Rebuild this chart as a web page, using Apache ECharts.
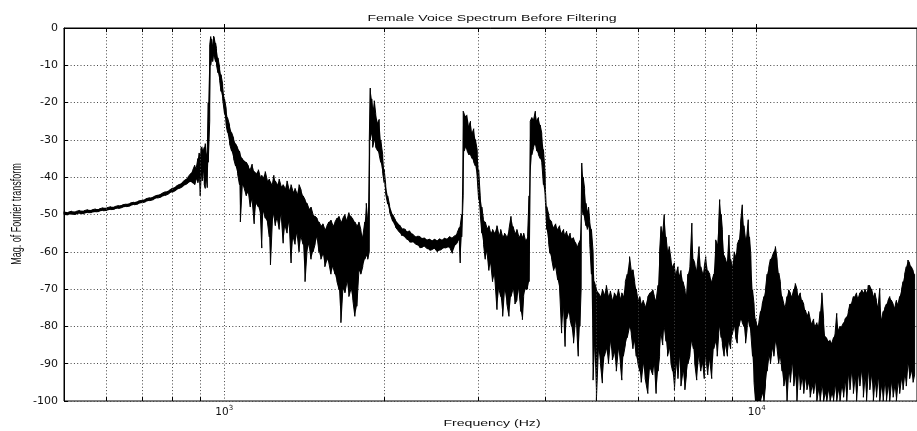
<!DOCTYPE html>
<html>
<head>
<meta charset="utf-8">
<title>Female Voice Spectrum Before Filtering</title>
<script src="https://cdn.jsdelivr.net/npm/echarts@6/dist/echarts.min.js"></script>
<style>
  html, body { margin: 0; padding: 0; background: #fff; }
  #chart { width: 917px; height: 431px; }
</style>
</head>
<body>
<div id="chart"></div>
<script>
// Spectrum rows: [frequency in Hz, upper envelope dB, lower envelope dB]
const risingSlope = [
  [500,-49.2,-50.0],[509,-49.4,-50.1],[517,-49.1,-49.9],[526,-49.2,-50.0],[535,-48.9,-49.7],
  [545,-49.0,-49.8],[554,-48.7,-49.5],[563,-48.8,-49.5],[573,-48.5,-49.3],[582,-48.5,-49.2],
  [592,-48.2,-49.0],[602,-48.2,-48.9],[612,-47.9,-48.7],[622,-47.9,-48.6],[633,-47.6,-48.4],
  [644,-47.4,-48.1],[655,-47.2,-47.9],[666,-46.9,-47.7],[677,-46.7,-47.4],[689,-46.4,-47.2],
  [700,-46.2,-46.9],[712,-45.8,-46.6],[724,-45.5,-46.3],[737,-45.2,-46.0],[749,-44.8,-45.6],
  [762,-44.4,-45.3],[775,-43.9,-44.9],[788,-43.5,-44.4],[800,-42.9,-44.0],[812,-42.4,-43.5],
  [824,-41.9,-43.0],[836,-41.2,-42.5],[846,-40.6,-42.0],[856,-39.8,-41.5],[865,-39.0,-41.2],
  [872,-38.2,-41.6],[880,-36.8,-42.0],[886,-37.5,-40.5],[892,-35.0,-41.5],[897,-33.5,-40.0],
  [901,-34.0,-45.0],[905,-32.0,-39.5],[909,-31.7,-41.0],[913,-33.0,-38.5],[917,-32.0,-42.0],
  [921,-31.0,-43.0],[925,-34.0,-40.0],[929,-33.0,-42.8]
];
const firstPeak = [
  [933,-20,-36],[939,-4.5,-25],[943,-2.3,-10],[947,-3.0,-8],[951,-5.0,-9],[955,-2.2,-7],
  [959,-2.5,-8],[963,-4.0,-9],[967,-5.5,-10],[973,-8.0,-12],[980,-10.5,-14],[986,-12.5,-17],
  [993,-15,-19],[1001,-19,-23],[1008,-21.5,-26],[1014,-24,-28],[1023,-26,-31],[1032,-28,-33],
  [1041,-29.5,-35],[1050,-31,-37],[1059,-32,-39],[1068,-33,-42],[1072,-34,-52],[1081,-35,-42],
  [1090,-35.5,-43],[1100,-36,-45],[1110,-37,-44],[1119,-38,-48],[1128,-36.5,-46],[1138,-38.5,-52.5],
  [1148,-39,-47],[1159,-38,-48],[1169,-40,-50],[1176,-39.5,-59],[1184,-40,-49],[1194,-38.5,-51],
  [1205,-41,-52],[1215,-40.5,-56],[1221,-41,-63.5],[1231,-42,-52],[1239,-39.5,-50],[1247,-41,-53],
  [1258,-42,-51],[1268,-40.5,-54],[1279,-42.5,-50],[1290,-42,-57.7],[1301,-43,-53],[1312,-41,-55],
  [1324,-43.5,-52],[1335,-42,-63],[1347,-44,-56],[1358,-43,-58],[1370,-44.5,-55],[1382,-42,-60],
  [1394,-43.4,-56],[1406,-45,-58],[1418,-46,-68],[1430,-47,-60],[1443,-48.5,-58],[1455,-48,-62],
  [1468,-50,-60],[1481,-50.5,-58],[1494,-51,-56],[1506,-52,-60],[1519,-53,-62],[1532,-52.5,-60.5],
  [1545,-54,-64],[1559,-53,-62],[1572,-52,-63],[1586,-51.5,-66],[1600,-53,-64],[1614,-52,-66],
  [1628,-51,-68],[1642,-50.5,-70],[1656,-52,-79],[1670,-51,-70],[1685,-50,-71],[1700,-51.5,-68],
  [1714,-49.5,-72],[1729,-50.5,-70],[1744,-51,-73],[1759,-52,-77.3],[1774,-53,-74.6],[1790,-52,-65],
  [1805,-54,-66],[1820,-56,-64],[1836,-52,-62],[1848,-47,-61],[1860,-52,-62]
];
const secondPeak = [
  [1872,-30,-60],[1880,-16.1,-30],[1892,-19,-28],[1900,-22,-32],[1913,-19.5,-30],[1925,-23,-32],
  [1942,-25.4,-33],[1954,-24.5,-34],[1967,-30,-36],[1984,-34,-39],[1997,-38,-41.5],[2010,-42,-44.5],
  [2027,-45,-47.2],[2044,-47.5,-49.4],[2071,-50,-51.8],[2097,-51.5,-53.4],[2134,-52.8,-54.8],
  [2152,-53.6,-55.6],[2170,-53.8,-55.8],[2189,-54.0,-56.2],[2208,-54.6,-56.8],[2230,-54.4,-57.4],
  [2256,-55.2,-57.4],[2280,-55.8,-57.8],[2306,-55.8,-58.2],[2330,-55.9,-58.9],[2356,-56.4,-58.8],
  [2380,-56.3,-58.6],[2407,-56.8,-59.2],[2433,-56.6,-59.6],[2460,-57,-59.4],[2486,-56.6,-59.2],
  [2513,-57,-60],[2540,-56.5,-59.6],[2568,-56.8,-59.2],[2596,-56.3,-59.0],[2624,-56.5,-58.8],
  [2652,-55.9,-58.9],[2681,-56.2,-60.4],[2716,-55.6,-58.2],[2739,-54.8,-57.6],[2763,-53.5,-56.8],
  [2774,-53,-63],[2792,-50,-56]
];
const thirdPeak = [
  [2810,-22.3,-45],[2822,-23,-33],[2837,-23.6,-32],[2859,-23.2,-33],[2880,-26.3,-34],[2900,-25,-34],
  [2921,-28.2,-35],[2941,-27,-36],[2962,-29.9,-37],[2985,-32.6,-40],[3004,-38,-46],[3025,-45,-50],
  [3046,-48,-55],[3068,-51.4,-58],[3091,-52,-62],[3115,-53.7,-60],[3140,-53,-65],[3165,-55,-63],
  [3191,-54,-68],[3218,-55,-66],[3252,-53,-75.5],[3280,-55.5,-70],[3305,-54,-72],[3333,-56,-77.3],
  [3360,-55,-70],[3395,-56,-74],[3425,-54,-77.3],[3455,-50.5,-72],[3485,-53.2,-70],[3515,-55,-74],
  [3545,-54,-73],[3575,-56,-70],[3606,-55,-76],[3630,-56,-78.2],[3650,-55,-72],[3680,-57,-70],
  [3712,-56,-70],[3736,-45,-68]
];
const fourthPeak = [
  [3755,-25,-40],[3781,-24,-34],[3811,-24.5,-32],[3839,-22.3,-31],[3864,-24.8,-33],[3891,-24,-34],
  [3920,-26,-35],[3947,-28.2,-36],[3976,-32.6,-42],[4005,-39,-45],[4033,-47.9,-54],[4068,-50,-58],
  [4090,-51.4,-60.4],[4120,-52,-62],[4156,-53.5,-65],[4192,-52.5,-64],[4228,-54,-67.5],[4264,-53,-70],
  [4301,-55,-81.8],[4338,-54,-75],[4366,-55.5,-85.4],[4395,-54.5,-78],[4433,-56,-76],[4462,-55,-78.2],
  [4490,-56.5,-80],[4529,-56,-84.5],[4568,-57.5,-78],[4597,-58.6,-82],[4622,-58,-88],[4654,-57,-80],
  [4680,-50,-70]
];
const fifthPeak = [
  [4693,-36.2,-48],[4721,-40,-50],[4750,-43,-51],[4778,-47,-53],[4806,-49.2,-54],[4832,-48,-53],
  [4858,-51.9,-58],[4893,-54,-66],[4928,-60,-94.4],[4955,-68,-85]
];
const upperBand = [
  [4999,-70,-99.7],[5043,-71,-86],[5087,-72,-90],[5130,-70,-95.2],[5175,-71.5,-88],[5219,-69,-86],
  [5265,-72,-90],[5310,-70.5,-84],[5356,-73,-89],[5402,-71,-87],[5449,-72,-92],[5496,-70,-86],
  [5544,-72.5,-90],[5580,-71,-94.4],[5617,-72,-88],[5665,-68,-85],[5713,-66,-83],[5770,-61.3,-80],
  [5812,-65,-82],[5855,-64.8,-86],[5900,-68,-84],[5939,-70,-88],[5983,-73,-90],[6030,-72,-92],
  [6068,-74,-95],[6120,-73,-90],[6173,-74.7,-94],[6245,-72,-98],[6305,-71,-91],[6378,-70.2,-93],
  [6426,-72,-90],[6472,-73,-98],[6527,-69,-92],[6570,-60,-88],[6613,-53.2,-82],[6660,-55,-85],
  [6704,-50,-80],[6756,-56,-84],[6800,-60,-88],[6850,-58.6,-86],[6902,-62,-90],[6950,-64,-92],
  [7005,-63,-97],[7053,-66,-90],[7113,-64,-94],[7155,-66.6,-88],[7206,-65,-96],[7270,-68,-92],
  [7330,-70,-97],[7380,-72,-93],[7426,-66,-90],[7490,-64,-88],[7555,-52.3,-84],[7605,-62,-86],
  [7650,-63,-90],[7715,-65,-94.4],[7793,-58.6,-88],[7852,-64,-92],[7920,-66,-90],[7970,-64,-94],
  [8022,-61.3,-88],[8092,-65,-93],[8162,-66,-89],[8232,-68,-94],[8304,-66,-86],[8375,-56.8,-84],
  [8430,-58,-88],[8485,-52,-82],[8520,-46,-80],[8575,-50,-83],[8620,-54.1,-85],[8686,-61,-88],
  [8743,-62,-85],[8810,-63,-88],[8870,-55.5,-84],[8933,-62,-86],[8998,-64,-82],[9070,-60,-80],
  [9127,-61.3,-83],[9193,-58,-84.5],[9260,-56.8,-80],[9326,-52,-78],[9395,-47.4,-79],[9460,-53,-80],
  [9530,-56.8,-84.5],[9590,-55,-81],[9640,-51.4,-78],[9693,-56,-80],[9750,-61,-82],[9820,-70.2,-88],
  [9885,-74,-95],[9948,-78,-100],[10012,-80,-100],[10090,-79,-100],[10164,-76,-100],[10240,-74,-98],
  [10318,-72,-100],[10385,-70.2,-96],[10460,-66,-92],[10540,-64,-88],[10610,-62,-90],[10690,-61.3,-86],
  [10770,-60,-88],[10841,-58.6,-84],[10920,-62,-86],[11000,-65.7,-90],[11077,-68,-88],[11160,-72,-92],
  [11245,-74,-96],[11318,-74.7,-94],[11400,-72,-100],[11480,-70.2,-92],[11564,-71,-95],[11650,-72,-90],
  [11740,-70,-96],[11815,-68.5,-93],[11900,-70,-100],[11985,-72,-92],[12072,-71,-97],[12160,-72.9,-94],
  [12255,-74,-98],[12334,-75.6,-94],[12425,-77,-97],[12515,-76,-95],[12602,-78,-99],[12695,-79.2,-96],
  [12790,-78,-98],[12876,-80,-95],[12970,-79,-100],[13065,-80,-97],[13156,-76,-100],[13255,-71,-96],
  [13355,-78,-100],[13442,-82.7,-98],[13540,-83,-100],[13640,-84,-97],[13734,-83.5,-100],[13835,-84.5,-98],
  [13940,-83,-100],[14032,-82,-96],[14135,-76.5,-100],[14240,-81,-97],[14337,-80,-100],[14440,-80,-96],
  [14560,-79,-99],[14649,-78,-95],[14760,-77.4,-100],[14860,-76,-93],[14967,-74,-97],[15075,-73.8,-92],
  [15190,-72,-98],[15292,-72,-94],[15400,-71,-100],[15510,-72.5,-93],[15624,-71,-96],[15740,-70.2,-91.7],
  [15860,-71,-99],[15964,-70,-94],[16080,-71.1,-100],[16200,-69,-92],[16310,-68.9,-97],[16430,-70,-93],
  [16560,-72,-100],[16665,-71,-95],[16785,-73,-99],[16905,-74.7,-94],[17027,-69.8,-100],[17150,-78.3,-96],
  [17280,-76,-100],[17397,-75,-95],[17525,-74,-100],[17650,-73,-96],[17775,-72,-100],[17905,-73,-95],
  [18040,-74,-99],[18161,-75,-96],[18295,-73,-100],[18425,-74,-95],[18556,-72,-98],[18700,-70.2,-94],
  [18830,-68,-97],[18959,-66,-93],[19095,-64,-96],[19230,-62.2,-90],[19371,-63,-94],[19510,-64,-92],
  [19665,-65,-95],[19792,-66,-93]
];

// Axis settings
const freqRange = [500, 20000];
const dbRange = [-100, 0];
const dbTicks = [0, -10, -20, -30, -40, -50, -60, -70, -80, -90, -100];
const minorFreqHz = [600, 700, 800, 900, 2000, 3000, 4000, 5000, 6000, 7000, 8000, 9000];
const majorFreqHz = [1000, 10000];

const titleText = 'Female Voice Spectrum Before Filtering';
const xLabelText = 'Frequency (Hz)';
const yLabelText = 'Mag. of Fourier transform';

const spectrumRows = [].concat(risingSlope, firstPeak, secondPeak, thirdPeak, fourthPeak, fifthPeak, upperBand);

// Outline trace: each bin is a vertical stroke between its envelopes,
// alternating direction so consecutive strokes join along the envelopes.
const trace = [];
spectrumRows.forEach(([f, hi, lo], i) => {
  if (i % 2 === 0) trace.push([f, hi], [f, lo]);
  else trace.push([f, lo], [f, hi]);
});

const gridDots = { color: '#444', width: 1, type: [1, 2.3] };
const tickLen = 1.1; // dB, for the short inner tick marks

const minorGrid = minorFreqHz.map(f => ({ xAxis: f }));
const tickMarks = [];
minorFreqHz.concat(majorFreqHz).forEach(f => {
  tickMarks.push([{ coord: [f, dbRange[1]] }, { coord: [f, dbRange[1] - tickLen] }]);
  if (minorFreqHz.includes(f)) {
    tickMarks.push([{ coord: [f, dbRange[0]] }, { coord: [f, dbRange[0] + tickLen] }]);
  }
});

// Filled band between the upper and lower envelopes, placed via the axes
function renderBand(params, api) {
  const upper = spectrumRows.map(r => api.coord([r[0], r[1]]));
  const lower = spectrumRows.map(r => api.coord([r[0], r[2]])).reverse();
  return {
    type: 'polygon',
    shape: { points: upper.concat(lower) },
    style: { fill: '#000', stroke: null }
  };
}

const chart = echarts.init(document.getElementById('chart'), null, { renderer: 'canvas' });

chart.setOption({
  animation: false,
  backgroundColor: '#fff',
  grid: {
    left: 64, top: 28, width: 858.5, height: 373,
    show: true, borderColor: '#000', borderWidth: 1, backgroundColor: 'transparent'
  },
  xAxis: {
    type: 'log',
    logBase: 10,
    min: freqRange[0],
    max: freqRange[1],
    axisLine: { show: true, lineStyle: { color: '#000', width: 1 } },
    axisTick: { show: true, inside: true, length: 4, lineStyle: { color: '#000' } },
    axisLabel: {
      showMinLabel: false,
      showMaxLabel: false,
      margin: 4,
      color: '#111',
      fontFamily: 'DejaVu Sans',
      fontSize: 10.5,
      formatter: v => {
        const e = Math.round(Math.log10(v));
        return (majorFreqHz.includes(Math.round(v)) && Math.abs(Math.log10(v) - e) < 1e-6) ? '10{e|' + e + '}' : '';
      },
      rich: {
        e: { fontSize: 7, fontFamily: 'DejaVu Sans', color: '#111', padding: [0, 0, 7, 0] }
      }
    },
    splitLine: { show: true, lineStyle: gridDots }
  },
  yAxis: {
    type: 'value',
    min: dbRange[0],
    max: dbRange[1],
    interval: 10,
    axisLine: { show: true, lineStyle: { color: '#000', width: 1 } },
    axisTick: { show: true, inside: true, length: 4, lineStyle: { color: '#000' } },
    axisLabel: {
      margin: 6,
      color: '#111',
      fontFamily: 'DejaVu Sans',
      fontSize: 11,
      customValues: dbTicks
    },
    splitLine: { show: true, lineStyle: gridDots }
  },
  graphic: [
    {
      type: 'text', x: 492, y: 18.5, scaleX: 1.41, scaleY: 0.9, silent: true,
      style: { text: titleText, font: '10px "Liberation Sans", Arial, sans-serif', fill: '#111', align: 'center', verticalAlign: 'middle' }
    },
    {
      type: 'text', x: 492, y: 424, scaleX: 1.41, scaleY: 0.9, silent: true,
      style: { text: xLabelText, font: '10px "Liberation Sans", Arial, sans-serif', fill: '#111', align: 'center', verticalAlign: 'middle' }
    },
    {
      type: 'text', x: 17, y: 214, rotation: Math.PI / 2, scaleX: 0.9, scaleY: 1.41, silent: true,
      style: { text: yLabelText, font: '10px "Liberation Sans", Arial, sans-serif', fill: '#111', align: 'center', verticalAlign: 'middle' }
    }
  ],
  series: [
    {
      // log-spaced grid lines
      type: 'line',
      z: 1,
      data: [[freqRange[0], dbRange[0]]],
      showSymbol: false,
      lineStyle: { width: 0 },
      silent: true,
      markLine: {
        silent: true,
        symbol: 'none',
        animation: false,
        label: { show: false },
        lineStyle: gridDots,
        data: minorGrid
      }
    },
    {
      // short inner tick marks at the log-spaced positions
      type: 'line',
      z: 1,
      data: [[freqRange[0], dbRange[0]]],
      showSymbol: false,
      lineStyle: { width: 0 },
      silent: true,
      markLine: {
        silent: true,
        symbol: 'none',
        animation: false,
        label: { show: false },
        lineStyle: { color: '#000', width: 1, type: 'solid' },
        data: tickMarks
      }
    },
    {
      name: 'Spectrum band',
      type: 'custom',
      z: 2,
      silent: true,
      coordinateSystem: 'cartesian2d',
      data: [[spectrumRows[0][0], spectrumRows[0][1]]],
      encode: { x: 0, y: 1 },
      renderItem: renderBand
    },
    {
      name: 'Spectrum',
      type: 'line',
      z: 3,
      data: trace,
      showSymbol: false,
      symbol: 'none',
      sampling: null,
      clip: true,
      lineStyle: { color: '#000', width: 1 },
      emphasis: { disabled: true }
    }
  ]
});
</script>
</body>
</html>
